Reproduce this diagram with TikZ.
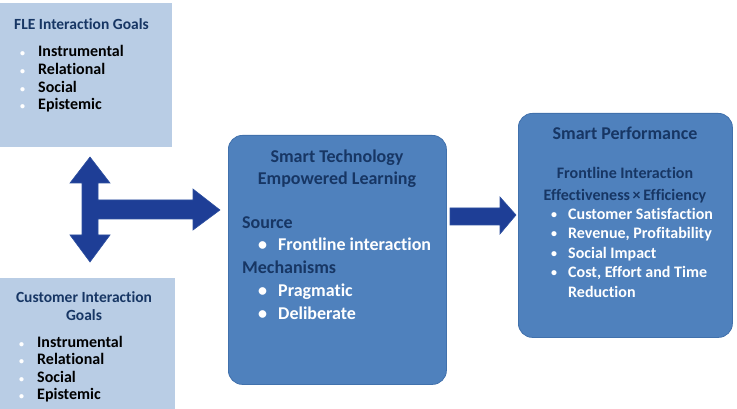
\documentclass[tikz,border=0pt]{standalone}
\usepackage{fontspec}
\setmainfont{Carlito}[RawFeature={-liga}]
\definecolor{lightbox}{RGB}{185,205,229}
\definecolor{midbox}{RGB}{79,129,189}
\definecolor{boxedge}{RGB}{65,113,172}
\definecolor{navy}{RGB}{23,54,100}
\definecolor{arrowblue}{RGB}{30,62,150}
\definecolor{arrowedge}{RGB}{45,80,160}
\tikzset{
  lightrect/.style={fill=lightbox, draw=none, anchor=north west, inner sep=0},
  bluebox/.style={fill=midbox, draw=boxedge, line width=0.8pt, rounded corners=14pt, anchor=north west, inner sep=0},
  blockarrow/.style={fill=arrowblue, draw=arrowedge, line width=0.6pt, line join=miter},
  ttl/.style={font=\bfseries\fontsize{15.5}{17}\selectfont, text=navy, anchor=base, inner sep=0},
  bigttl/.style={font=\bfseries\fontsize{18}{20}\selectfont, text=navy, anchor=base, inner sep=0},
  item/.style={font=\bfseries\fontsize{16}{18}\selectfont, text=black, anchor=base west, inner sep=0},
  wdot/.style={font=\bfseries\fontsize{10}{11}\selectfont, text=white, anchor=base west, inner sep=0},
  midhead/.style={font=\bfseries\fontsize{18}{20}\selectfont, text=navy, anchor=base west, inner sep=0},
  miditem/.style={font=\bfseries\fontsize{18}{20}\selectfont, text=white, anchor=base west, inner sep=0},
  rsub/.style={font=\bfseries\fontsize{16}{18}\selectfont, text=navy, anchor=base, inner sep=0},
  ritem/.style={font=\bfseries\fontsize{16}{18}\selectfont, text=white, anchor=base west, inner sep=0},
  rdot/.style={font=\bfseries\fontsize{12}{13}\selectfont, text=white, anchor=base west, inner sep=0},
}
\begin{document}
\begin{tikzpicture}[x=1pt,y=-1pt]
\useasboundingbox (0,0) rectangle (737,409);
% boxes
\node[lightrect, minimum width=172pt, minimum height=144pt] (fle) at (0,3) {};
\node[lightrect, minimum width=175pt, minimum height=131pt] (cust) at (0,278) {};
\node[bluebox, minimum width=218pt, minimum height=249pt] (stel) at (228,135) {};
\node[bluebox, minimum width=214pt, minimum height=224pt] (perf) at (518,113) {};

% FLE goals
\node[ttl, anchor=base west] (fleT) at (14,30) {FLE Interaction Goals};
\foreach \t/\y [count=\i] in {Instrumental/57, Relational/75, Social/92.5, Epistemic/110}{
  \node[wdot] (fleb\i) at (20,\y) {•};
  \node[item] (flei\i) at (38,\y) {\t};
}

% Customer goals
\node[ttl] (custT1) at (84,302.5) {Customer Interaction};
\node[ttl] (custT2) at (84,320.5) {Goals};
\foreach \t/\y [count=\i] in {Instrumental/347.5, Relational/364.5, Social/382.5, Epistemic/399.5}{
  \node[wdot] (custb\i) at (19,\y) {•};
  \node[item] (custi\i) at (37,\y) {\t};
}

% Smart technology empowered learning
\node[bigttl] (stelT1) at (337,163) {Smart Technology};
\node[bigttl] (stelT2) at (337,185) {Empowered Learning};
\node[midhead] (src) at (242,229) {Source};
\node[miditem] (srcb) at (258,251) {•};
\node[miditem] (srci) at (278,251) {Frontline interaction};
\node[midhead] (mech) at (242,273) {Mechanisms};
\node[miditem] (mechb1) at (258,296) {•};
\node[miditem] (mechi1) at (278,296) {Pragmatic};
\node[miditem] (mechb2) at (258,319) {•};
\node[miditem] (mechi2) at (278,319) {Deliberate};

% Smart performance
\node[bigttl] (perfT) at (625,140) {Smart Performance};
\node[rsub] (perfS1) at (625,179) {Frontline Interaction};
\node[rsub] (perfS2) at (625,200.5) {Effectiveness\,×\,Efficiency};
\foreach \t/\y [count=\i] in {Customer Satisfaction/219.5, {Revenue, Profitability}/238.5, Social Impact/258.5, {Cost, Effort and Time}/277.5}{
  \node[rdot] (perfb\i) at (551,\y-1) {•};
  \node[ritem] (perfi\i) at (568,\y) {\t};
}
\node[ritem] (perfi5) at (568,297.5) {Reduction};

% block arrows
\draw[blockarrow] (90,157) -- (110,183) -- (98,183) -- (98,200) -- (193,200) -- (193,189)
  -- (220,210) -- (193,230) -- (193,219) -- (98,219) -- (98,235) -- (110,235)
  -- (90,262) -- (70,235) -- (82,235) -- (82,183) -- (70,183) -- cycle;
\draw[blockarrow] (450,208) -- (500,208) -- (500,197) -- (516,215) -- (500,234)
  -- (500,225) -- (450,225) -- cycle;
\end{tikzpicture}
\end{document}
